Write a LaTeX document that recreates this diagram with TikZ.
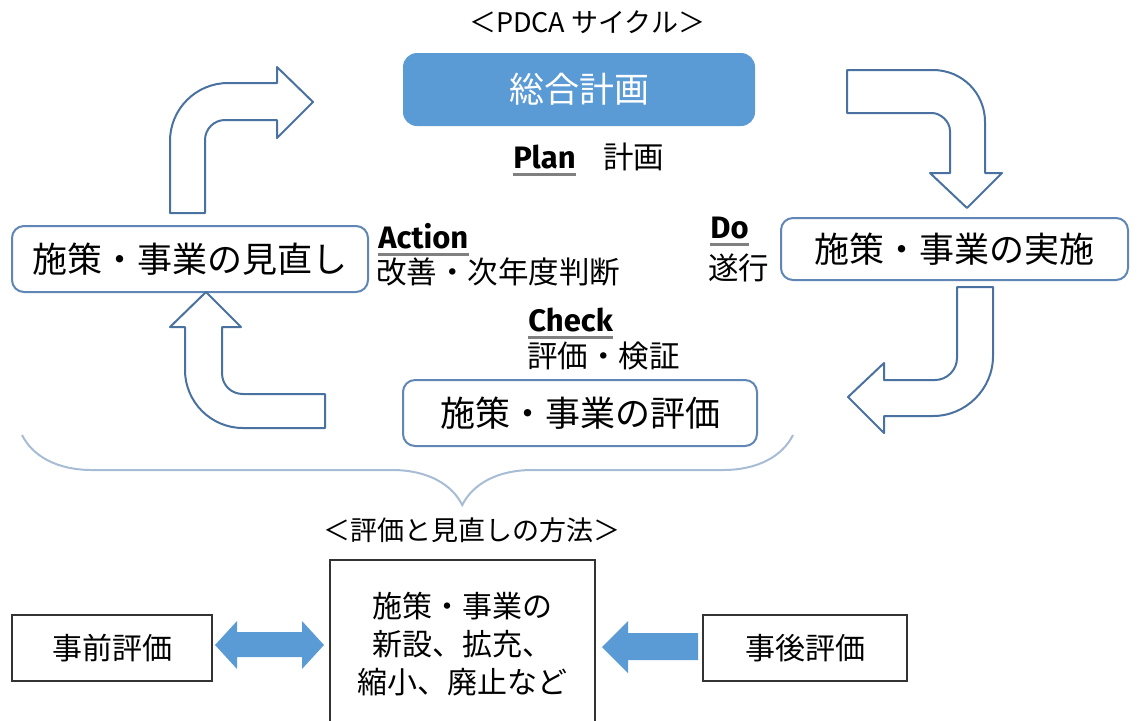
\documentclass[tikz,border=0pt]{standalone}
\usepackage{fontspec}
\setmainfont{Noto Sans CJK JP}
\newfontfamily\pdcafont{Fira Sans}
\usetikzlibrary{positioning,decorations.pathreplacing}

\definecolor{planblue}{HTML}{5B9BD5}
\definecolor{lineblue}{HTML}{4A72A0}
\definecolor{boxblue}{HTML}{5F86B5}
\definecolor{bracegray}{HTML}{A7BCD5}
\definecolor{ulgray}{HTML}{808080}

\begin{document}
\begin{tikzpicture}[x=0.5pt, y=-0.5pt,
    cyclebox/.style={draw=boxblue, line width=1pt, rounded corners=6pt, fill=white,
                     font=\fontsize{17.5}{20}\selectfont, inner sep=0pt},
    planbox/.style={fill=planblue, rounded corners=7pt, text=white,
                    font=\fontsize{17.5}{20}\selectfont, inner sep=0pt},
    methodbox/.style={draw=black!80, line width=0.9pt, fill=white,
                      font=\fontsize{15}{19}\selectfont, inner sep=0pt},
    pdca/.style={font=\pdcafont\bfseries\fontsize{15.5}{18}\selectfont, inner sep=0pt, anchor=west},
    note/.style={font=\fontsize{15.25}{18}\selectfont, inner sep=0pt, anchor=west},
    heading/.style={font=\fontsize{13.5}{16}\selectfont, inner sep=0pt},
    ulline/.style={ulgray, line width=1.2pt},
    bendarrow/.style={draw=lineblue, line width=1pt, fill=white, line join=round},
    blockarrow/.style={fill=planblue}]

  \useasboundingbox (0,0) rectangle (1139,720);

  % cycle
  \node[heading] (title) at (587,22) {＜PDCA サイクル＞};
  \node[planbox, minimum width=176pt, minimum height=36.5pt] (plan) at (579,89.5) {総合計画};
  \node[cyclebox, minimum width=173.5pt, minimum height=31pt] (do) at (954.5,249) {施策・事業の実施};
  \node[cyclebox, minimum width=177pt, minimum height=33pt] (check) at (580,413) {施策・事業の評価};
  \node[cyclebox, minimum width=178pt, minimum height=33pt] (act) at (190,259) {施策・事業の見直し};

  % labels
  \node[pdca] (planlbl) at (513,157) {Plan};
  \node[note] (plannote) at (603,157) {計画};
  \node[pdca] (dolbl) at (710,228) {Do};
  \node[note] (donote) at (708,268) {遂行};
  \node[pdca] (checklbl) at (528,320) {Check};
  \node[note] (checknote) at (527,356) {評価・検証};
  \node[pdca] (actlbl) at (378,236) {Action};
  \node[note] (actnote) at (376,272) {改善・次年度判断};
  \foreach \lbl in {planlbl,dolbl,checklbl,actlbl}
    \draw[ulline] ([yshift=-3pt]\lbl.base west) -- ([yshift=-3pt]\lbl.base east);

  % bent arrows
  \draw[bendarrow] (170,213) -- (170,141) .. controls (170,109) and (196,83) .. (228,83)
    -- (277,83) -- (277,67) -- (313,102) -- (277,138) -- (277,120) -- (225,120)
    .. controls (214,120) and (205,129) .. (205,140) -- (205,213) -- cycle;
  \draw[bendarrow] (847,70) -- (933,70) .. controls (962,70) and (985,93) .. (985,122)
    -- (985,173) -- (1002,173) -- (967,208) -- (930,173) -- (950,173) -- (950,131)
    .. controls (950,121) and (940,113) .. (932,113) -- (847,113) -- cycle;
  \draw[bendarrow] (957,287) -- (993,287) -- (993,356) .. controls (993,389) and (966,416) .. (933,416)
    -- (884,416) -- (884,433) -- (848,397) -- (884,363) -- (884,380) -- (935,380)
    .. controls (947,380) and (957,370) .. (957,358) -- cycle;
  \draw[bendarrow] (206,292) -- (241,327) -- (222,327) -- (222,373)
    .. controls (222,385) and (231,394) .. (243,394) -- (325,394) -- (325,428) -- (243,428)
    .. controls (211,428) and (185,402) .. (185,370) -- (185,327) -- (170,327) -- cycle;

  % brace
  \draw[bracegray, line width=1pt, decoration={brace,mirror,amplitude=35pt,aspect=0.571},decorate]
    (22,435) -- (793,435);

  % methods
  \node[heading] (methods) at (472,530) {＜評価と見直しの方法＞};
  \node[methodbox, minimum width=132.5pt, minimum height=84pt, align=center] (change) at (462.5,644)
    {施策・事業の\\新設、拡充、\\縮小、廃止など};
  \node[methodbox, minimum width=100pt, minimum height=33pt] (pre) at (112,648) {事前評価};
  \node[methodbox, minimum width=102pt, minimum height=33pt] (post) at (805,648) {事後評価};

  \fill[blockarrow] (215,645) -- (237,621) -- (237,632) -- (302,632) -- (302,621) -- (324,645)
    -- (302,669) -- (302,657) -- (237,657) -- (237,669) -- cycle;
  \fill[blockarrow] (602,647) -- (628,621) -- (628,633) -- (698,633) -- (698,660) -- (628,660)
    -- (628,673) -- cycle;

\end{tikzpicture}
\end{document}
